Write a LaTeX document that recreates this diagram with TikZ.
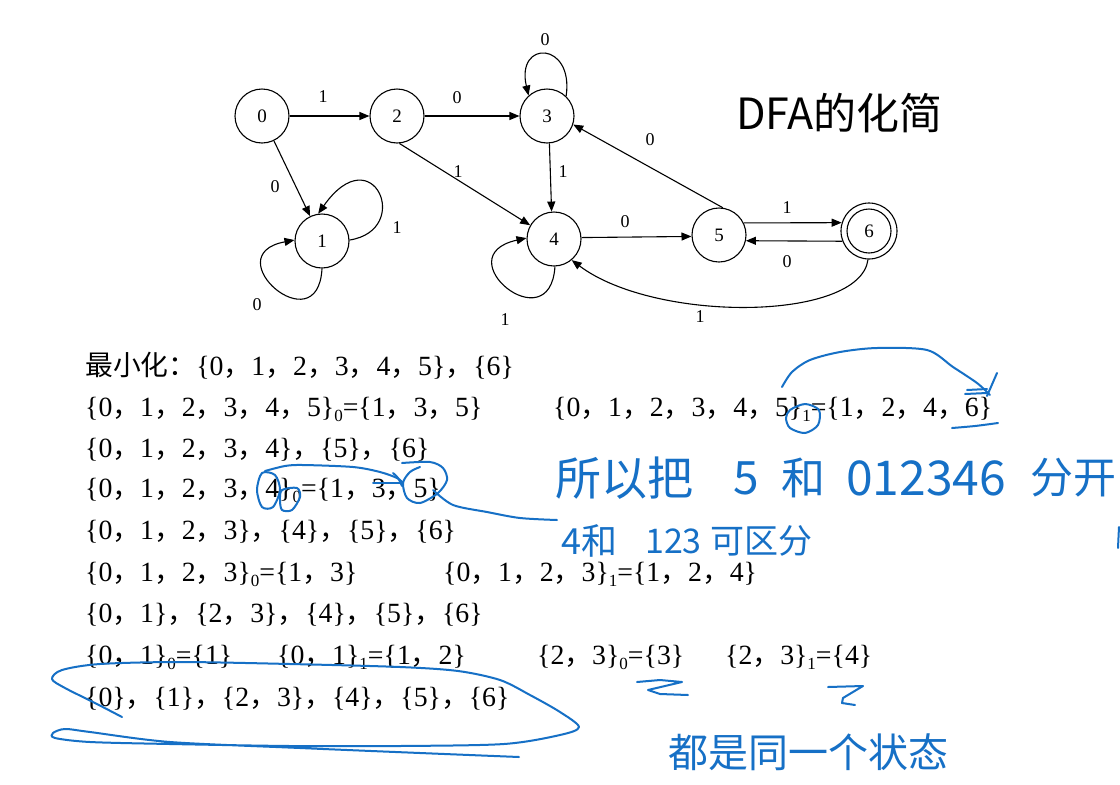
\documentclass[tikz,border=0pt]{standalone}
\usepackage{fontspec}
\setmainfont{Liberation Serif}
\newfontfamily\cjk{Noto Sans CJK SC}
\usetikzlibrary{arrows.meta}
\definecolor{pen}{RGB}{22,112,198}
\newcommand\cm{{\cjk ，}}
\newcommand\sbs[1]{\raisebox{-0.2em}{\fontsize{17}{17}\selectfont #1}}
\begin{document}
\begin{tikzpicture}[x=1pt,y=-1pt,
  st/.style={circle,draw,line width=1.1pt,minimum size=54pt,inner sep=0pt,font=\fontsize{19}{19}\selectfont},
  arr/.style={-{Triangle[length=10pt,width=8pt]},line width=1.1pt},
  lbl/.style={inner sep=0pt,font=\fontsize{18}{18}\selectfont},
  row/.style={anchor=base west,inner sep=0pt,font=\fontsize{27.8}{27.8}\selectfont},
  hand/.style={pen,line width=2pt,line cap=round,line join=round},
  htxt/.style={pen,inner sep=0pt,anchor=west}]
\useasboundingbox (0,0) rectangle (1120,785);
\fill[white] (0,0) rectangle (1120,785);
\clip (0,0) rectangle (1120,785);

% ---------- DFA ----------
\node[st] (q0) at (262,116) {0};
\node[st] (q2) at (397,116) {2};
\node[st] (q3) at (547,116) {3};
\node[st] (q1) at (322,241) {1};
\node[st] (q4) at (554,239) {4};
\node[st] (q5) at (719,235) {5};
\node[st,minimum size=56pt] (q6) at (869,231) {6};
\draw[line width=1.1pt] (q6.center) circle[radius=22];

\draw[arr] (q0) -- (q2);
\draw[arr] (q0) -- (q1);
\draw[arr] (q2) -- (q3);
\draw[arr] (q2.-85) -- (q4.150);
\draw[arr] (q3.-85) -- (q4.95);
\draw[arr] (q4.3) -- (q5.183);
\draw[arr] (q5.82) -- (q3.-18);
\draw[arr] (q5.26) -- (q6.163);
\draw[arr] (q6.-159) -- (q5.-12);
\draw[arr] (q1.2) .. controls +(64,-10) and +(55,-78) .. (q1.98);
\draw[arr] (q1.-90) .. controls +(-4,77) and +(-80,15) .. (q1.178);
\draw[arr] (q3.46) .. controls +(8,-55) and +(-13,-56) .. (q3.132);
\draw[arr] (q4.-88) .. controls +(-5,77) and +(-82,18) .. (q4.178);
\draw[arr] (q6.-92) .. controls +(-8,62) and +(84,63) .. (q4.-50);

\node[lbl] (l02) at (323,97) {1};
\node[lbl] (l23) at (457,98) {0};
\node[lbl] (l33) at (545,40) {0};
\node[lbl] (l01) at (275,187) {0};
\node[lbl] (l11a) at (397,228) {1};
\node[lbl] (l11b) at (257,305) {0};
\node[lbl] (l24) at (458,172) {1};
\node[lbl] (l34) at (563,172) {1};
\node[lbl] (l44) at (505,320) {1};
\node[lbl] (l45) at (625,222) {0};
\node[lbl] (l53) at (650,140) {0};
\node[lbl] (l56) at (787,208) {1};
\node[lbl] (l65) at (787,262) {0};
\node[lbl] (l64) at (700,317) {1};

\node[anchor=west,inner sep=0pt,font=\cjk\fontsize{43}{43}\selectfont] (title) at (736,113) {DFA的化简};

% ---------- rows ----------
\node[row] (r1) at (85,375) {{\cjk 最小化：}\{0\cm 1\cm 2\cm 3\cm 4\cm 5\}\cm\{6\}};
\node[row] (r2a) at (85,416) {\{0\cm 1\cm 2\cm 3\cm 4\cm 5\}\sbs{0}=\{1\cm 3\cm 5\}};
\node[row] (r2b) at (553,416) {\{0\cm 1\cm 2\cm 3\cm 4\cm 5\}\sbs{1}=\{1\cm 2\cm 4\cm 6\}};
\node[row] (r3) at (85,457) {\{0\cm 1\cm 2\cm 3\cm 4\}\cm\{5\}\cm\{6\}};
\node[row] (r4) at (85,497) {\{0\cm 1\cm 2\cm 3\cm 4\}\sbs{0}=\{1\cm 3\cm 5\}};
\node[row] (r5) at (85,539) {\{0\cm 1\cm 2\cm 3\}\cm\{4\}\cm\{5\}\cm\{6\}};
\node[row] (r6a) at (85,581) {\{0\cm 1\cm 2\cm 3\}\sbs{0}=\{1\cm 3\}};
\node[row] (r6b) at (443,581) {\{0\cm 1\cm 2\cm 3\}\sbs{1}=\{1\cm 2\cm 4\}};
\node[row] (r7) at (85,622) {\{0\cm 1\}\cm\{2\cm 3\}\cm\{4\}\cm\{5\}\cm\{6\}};
\node[row] (r8a) at (85,664) {\{0\cm 1\}\sbs{0}=\{1\}};
\node[row] (r8b) at (277,664) {\{0\cm 1\}\sbs{1}=\{1\cm 2\}};
\node[row] (r8c) at (537,664) {\{2\cm 3\}\sbs{0}=\{3\}};
\node[row] (r8d) at (725,664) {\{2\cm 3\}\sbs{1}=\{4\}};
\node[row] (r9) at (85,706) {\{0\}\cm\{1\}\cm\{2\cm 3\}\cm\{4\}\cm\{5\}\cm\{6\}};

% ---------- handwriting ----------
\node[htxt,font=\cjk\fontsize{46}{46}\selectfont] (h1a) at (555,478) {所以把};
\node[htxt,font=\cjk\fontsize{46}{46}\selectfont,anchor=center] (h1b) at (746,478) {5};
\node[htxt,font=\cjk\fontsize{44}{44}\selectfont,anchor=center] (h1c) at (803,478) {和};
\node[htxt,font=\cjk\fontsize{48}{48}\selectfont] (h1d) at (846,478) {012346};
\node[htxt,font=\cjk\fontsize{43}{43}\selectfont] (h1e) at (1030,478) {分开};
\node[htxt,font=\cjk\fontsize{36}{36}\selectfont] (h2a) at (561,541) {4和};
\node[htxt,font=\cjk\fontsize{34}{34}\selectfont] (h2b) at (645,541) {123};
\node[htxt,font=\cjk\fontsize{34}{34}\selectfont] (h2c) at (710,541) {可区分};
\node[htxt,font=\cjk\fontsize{40}{40}\selectfont] (h3) at (668,752) {都是同一个状态};

% arc over row 2
\draw[hand] plot[smooth] coordinates {(782,387) (792,372) (810,360) (840,352) (877,348) (927,350) (953,367) (977,383) (990,395)};
\draw[hand] (997,373) -- (987,396);
\draw[hand] (967,390) -- (987,389);
\draw[hand] (965,394) -- (987,393);
\draw[hand] plot[smooth cycle] coordinates {(790,410) (805,404) (819,410) (818,425) (805,433) (790,428) (786,418)};
\draw[hand] plot[smooth] coordinates {(952,428) (975,426) (998,423)};

% row 4 marks
\draw[hand] plot[smooth cycle] coordinates {(262,473) (275,475) (280,490) (273,507) (262,507) (257,490)};
\draw[hand] plot[smooth cycle] coordinates {(282,490) (297,488) (300,497) (292,510) (282,510) (280,500)};
\draw[hand] plot[smooth] coordinates {(265,471) (285,466) (303,465) (353,467) (380,472) (397,478) (403,483)};
\draw[hand] (373,483) -- (403,483);
\draw[hand] plot[smooth] coordinates {(393,473) (398,478) (402,486)};
\draw[hand] plot[smooth] coordinates {(402,463) (430,462) (443,468) (447,480) (438,493) (420,503) (407,498) (403,483) (410,472) (420,467)};
\draw[hand] plot[smooth] coordinates {(433,490) (453,505) (487,512) (520,518) (557,520)};

% right edge mark
\draw[hand] (1119,527) -- (1118,548);

% row 8 Z marks
\draw[hand] plot coordinates {(637,682) (660,680) (682,682) (648,690) (660,694) (688,695)};
\draw[hand] plot coordinates {(828,687) (863,686) (843,698) (842,703) (855,705)};

% ellipse round row 9
\draw[hand] plot[smooth] coordinates {(122,717) (95,703) (65,688) (52,679) (62,670) (100,664) (180,662) (290,664) (400,667) (458,671) (500,680) (530,695) (560,712) (579,727) (560,735) (504,744) (400,746) (290,746) (170,744) (90,742) (55,738) (53,733) (65,729) (90,732) (170,742) (300,748) (420,753) (519,757)};
\end{tikzpicture}
\end{document}
